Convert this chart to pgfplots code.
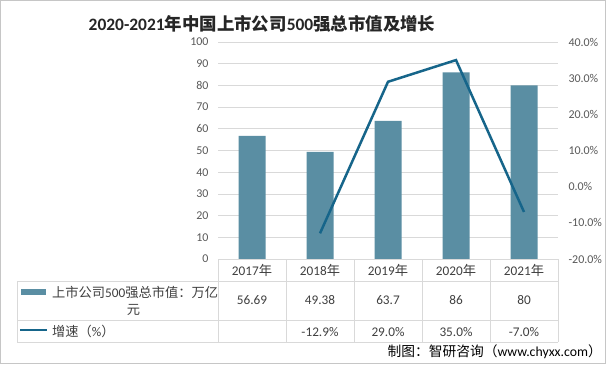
\documentclass[border=0pt]{standalone}
\usepackage{fontspec}
\setmainfont{Carlito}
\newfontfamily\cjk{Noto Sans CJK SC}
\usepackage{pgfplots}
\pgfplotsset{compat=1.18}
\definecolor{barc}{HTML}{5A8EA3}
\definecolor{linec}{HTML}{16658A}
\definecolor{gridc}{HTML}{D9D9D9}
\definecolor{tickc}{HTML}{595959}
\definecolor{txtc}{HTML}{404040}
\begin{document}
\begin{tikzpicture}[x=1bp,y=1bp]
\fill[white] (0,0) rectangle (606,364);
\draw[gray!45, line width=0.8bp] (0.4,0.4) rectangle (605.6,363.6);
\begin{axis}[
 at={(218bp,105bp)}, anchor=south west,
 scale only axis, width=340bp, height=217bp,
 xmin=-0.5, xmax=4.5, ymin=0, ymax=100,
 ytick={0,10,...,100},
 xtick=\empty,
 ymajorgrids, grid style={gridc, line width=0.8bp},
 axis line style={draw=none},
 major tick length=0pt,
 yticklabel style={font=\fontsize{12}{14}\selectfont, text=tickc, xshift=-6bp},
 /pgf/number format/assume math mode=true,
 clip=false,
]
\addplot[ybar, bar width=27bp, fill=barc, draw=none] coordinates {(0,56.69) (1,49.38) (2,63.7) (3,86) (4,80)};
\end{axis}
\begin{axis}[
 at={(218bp,105bp)}, anchor=south west,
 scale only axis, width=340bp, height=217bp,
 xmin=-0.5, xmax=4.5, ymin=-20, ymax=40,
 ytick={-20,-10,...,40},
 axis y line*=right, hide x axis,
 axis line style={draw=none},
 major tick length=0pt,
 yticklabel={\pgfmathprintnumber[fixed,fixed zerofill,precision=1]{\tick}\%},
 yticklabel style={font=\fontsize{12}{14}\selectfont, text=tickc, anchor=west, xshift=7bp},
 /pgf/number format/assume math mode=true,
 clip=false,
]
\addplot[linec, line width=2.5bp, no marks] coordinates {(1,-12.9) (2,29.0) (3,35.0) (4,-7.0)};
\end{axis}
% table
\begin{scope}[draw=gridc, line width=0.8bp]
\draw (218,105) -- (558,105);
\draw (17,83) -- (558,83);
\draw (17,44) -- (558,44);
\draw (17,22) -- (558,22);
\draw (17,83) -- (17,22);
\foreach \xx in {218,286,354,422,490,558} {\draw (\xx,105) -- (\xx,22);}
\end{scope}
\begin{scope}[every node/.style={font=\fontsize{13.3}{15}\selectfont, text=txtc, inner sep=0pt}]
\foreach \xx/\lab in {252/2017,320/2018,388/2019,456/2020,524/2021} {\node at (\xx,94) {\lab{\cjk 年}};}
\foreach \xx/\lab in {252/56.69,320/49.38,388/63.7,456/86,524/80} {\node at (\xx,64) {\lab};}
\foreach \xx/\lab in {320/-12.9\%,388/29.0\%,456/35.0\%,524/-7.0\%} {\node at (\xx,32) {\lab};}
\node[anchor=west] at (52,72) {{\cjk 上市公司}500{\cjk 强总市值：万亿}};
\node at (133.5,54) {\cjk 元};
\node[anchor=west] at (52,33) {{\cjk 增速（}\%{\cjk ）}};
\node[anchor=east, text=black, font=\fontsize{13.8}{16}\selectfont] at (602,12) {{\cjk 制图：智研咨询（}www.chyxx.com{\cjk ）}};
\end{scope}
\fill[barc] (21,69) rectangle (46,75);
\draw[linec, line width=2.5bp] (20,34) -- (47,34);
\node[font=\fontsize{17.5}{20}\selectfont\bfseries, text=black!85, inner sep=0pt] at (262,340) {2020-2021{\cjk 年中国上市公司}500{\cjk 强总市值及增长}};
\end{tikzpicture}
\end{document}
